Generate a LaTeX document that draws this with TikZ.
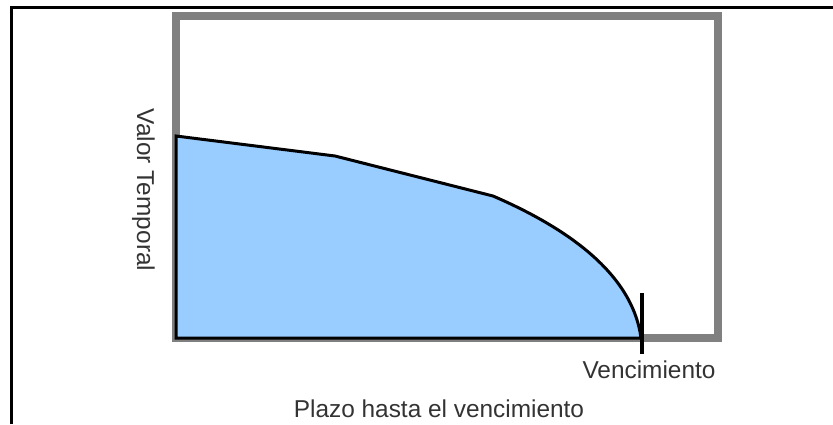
\documentclass[tikz,border=0pt]{standalone}
\usepackage{fontspec}
\setmainfont{Liberation Sans}
\usetikzlibrary{calc}
\definecolor{areablue}{HTML}{99CCFF}
\definecolor{framegray}{HTML}{808080}
\definecolor{labelgray}{HTML}{333333}
\tikzset{axislabel/.style={text=labelgray,font=\fontsize{24.4}{28}\selectfont,inner sep=0pt}}

\begin{document}
\begin{tikzpicture}[x=1pt,y=-1pt]
\useasboundingbox (0,0) rectangle (833,424);
\draw[line width=3pt] (11.5,424) -- (11.5,7.5) -- (833,7.5);
\draw[framegray,line width=8pt] (176,16) rectangle (718,338);
\filldraw[fill=areablue,line width=3pt]
  (176,338) coordinate (O) --
  (176,136) coordinate (A) --
  (335,156) coordinate (B) --
  (493,196) coordinate (C)
  .. controls (560,225) and (632,270) ..
  (641,338) coordinate (D) --
  cycle;
\coordinate (V) at (642,338);
\draw[line width=4pt] ($(V)+(0,-45)$) -- ($(V)+(0,16)$);
\node[axislabel,anchor=base] (venc) at (649,378) {Vencimiento};
\node[axislabel,anchor=base] (plazo) at (439,417) {Plazo hasta el vencimiento};
\node[axislabel,anchor=base,rotate=-90] (valor) at (137,190) {Valor Temporal};
\end{tikzpicture}
\end{document}
